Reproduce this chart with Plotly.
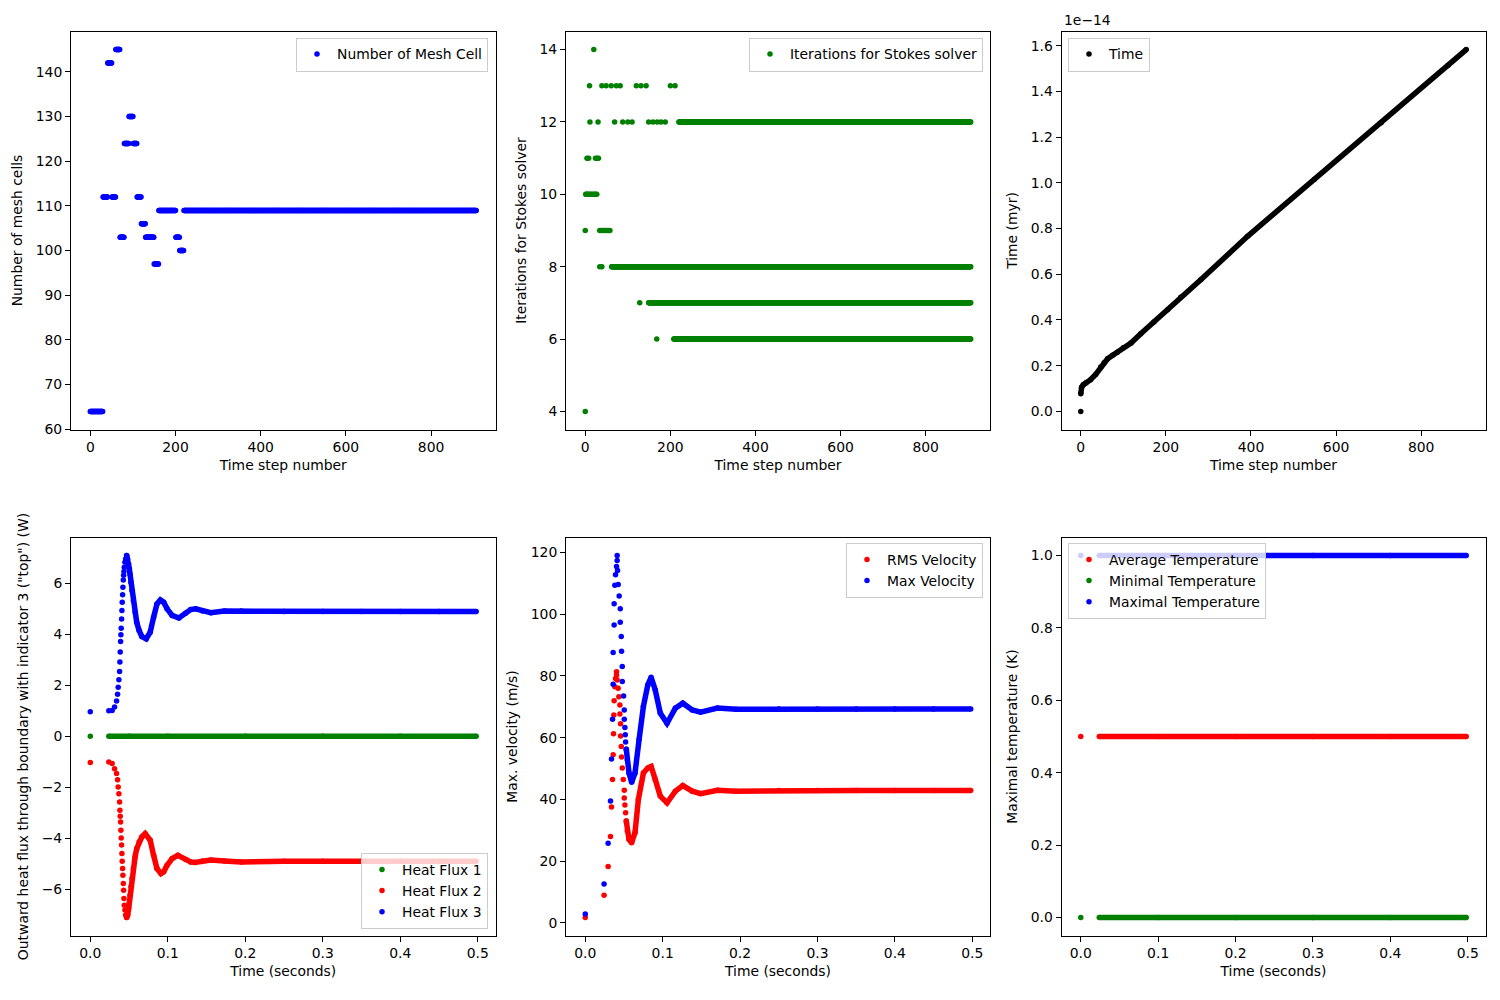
import plotly.graph_objects as go

# ---------------- data ----------------
LAST_STEP = 906

# Panel 1: number of mesh cells (piecewise constant runs over time steps)
MESH_CELLS = [64, 112, 142, 112, 145, 103, 124, 130, 124, 112, 106, 103, 97, 109, 103, 100, 109]
MESH_RUN_FIRST_STEP = [0, 30, 41, 51, 60, 70, 80, 91, 101, 110, 120, 130, 150, 161, 201, 210, 220]

# Panel 2: iterations for Stokes solver
ITER_EARLY_STEPS = [0, 0,
                    1, 3, 5, 7, 10, 13, 16, 19, 22, 25, 27,
                    4, 8, 24, 28, 31,
                    11, 30, 69, 88, 100, 110, 149, 159, 169, 178, 188,
                    10, 39, 49, 61, 73, 82, 120, 131, 143, 200, 211,
                    20,
                    34, 38, 42, 46, 50, 54, 58,
                    34, 39,
                    128, 168]
ITER_EARLY_COUNTS = [4, 9,
                     10, 10, 10, 10, 10, 10, 10, 10, 10, 10, 10,
                     11, 11, 11, 11, 11,
                     12, 12, 12, 12, 12, 12, 12, 12, 12, 12, 12,
                     13, 13, 13, 13, 13, 13, 13, 13, 13, 13, 13,
                     14,
                     9, 9, 9, 9, 9, 9, 9,
                     8, 8,
                     7, 6]
ITER_ROW_COUNTS = [8, 7, 6, 12]
ITER_ROW_FIRST_STEP = [62, 149, 208, 220]

# Panel 3: model time (in units of 1e-14 myr)
TIME_STEPS = [0, 0, 2, 6, 12, 23, 35, 47, 55, 63, 75, 86, 100, 118, 141, 172, 204, 235, 282,
              392, 549, 706, 863, 906]
TIME_MYR_E14 = [0.0, 0.077, 0.106, 0.117, 0.124, 0.139, 0.162, 0.194, 0.213, 0.230, 0.246, 0.259,
                0.278, 0.299, 0.340, 0.391, 0.445, 0.500, 0.576, 0.766, 1.016, 1.263, 1.513, 1.583]

# Panel 4: heat flux
HF_T_RISE = [0.0, 0.0239, 0.0282, 0.0313, 0.0339, 0.0352, 0.0360, 0.0369, 0.0378, 0.0382, 0.0386,
             0.0391, 0.0395, 0.0399, 0.0404, 0.0408, 0.0412, 0.0417, 0.0421, 0.0426, 0.0430, 0.0434,
             0.0439, 0.0447, 0.0456, 0.0469]
HF3_RISE = [0.97, 1.01, 1.02, 1.15, 1.39, 1.65, 1.93, 2.22, 2.55, 2.92, 3.31, 3.73, 3.99, 4.25,
            4.61, 4.94, 5.27, 5.56, 5.86, 6.14, 6.33, 6.48, 6.64, 6.84, 6.97, 7.10]
HF2_RISE = [-1.03, -1.01, -1.07, -1.27, -1.46, -1.70, -1.99, -2.25, -2.58, -2.90, -3.14, -3.36,
            -3.69, -3.99, -4.27, -4.60, -4.90, -5.19, -5.45, -5.78, -6.04, -6.37, -6.63, -6.82,
            -7.02, -7.11]
HF3_T_SETTLE = [0.0469, 0.0482, 0.0495, 0.0504, 0.0512, 0.0525, 0.0538, 0.0556, 0.0578, 0.0599,
                0.0630, 0.0665, 0.0721, 0.0773, 0.0817, 0.0860, 0.0904, 0.0947, 0.0991, 0.1056,
                0.1143, 0.1230, 0.1295, 0.1360, 0.1447, 0.1556, 0.1729, 0.1947,
                0.25, 0.30, 0.35, 0.40, 0.45, 0.498]
HF3_SETTLE = [7.10, 6.97, 6.77, 6.58, 6.38, 6.05, 5.73, 5.33, 4.88, 4.48, 4.16, 3.92, 3.83, 4.09,
              4.68, 5.20, 5.36, 5.27, 5.01, 4.75, 4.65, 4.84, 4.98, 5.01, 4.92, 4.86, 4.92, 4.92,
              4.90, 4.90, 4.90, 4.90, 4.90, 4.90]
HF2_T_SETTLE = [0.0469, 0.0482, 0.0495, 0.0504, 0.0512, 0.0525, 0.0538, 0.0556, 0.0578, 0.0599,
                0.0630, 0.0665, 0.0708, 0.0773, 0.0817, 0.0860, 0.0912, 0.0947, 0.0991, 0.1056,
                0.1130, 0.1230, 0.1295, 0.1347, 0.1447, 0.1556, 0.1729, 0.1947,
                0.25, 0.30, 0.35, 0.40, 0.45, 0.498]
HF2_SETTLE = [-7.11, -7.02, -6.76, -6.50, -6.24, -5.91, -5.58, -5.19, -4.73, -4.41, -4.14, -3.95,
              -3.82, -4.08, -4.67, -5.19, -5.39, -5.32, -5.06, -4.80, -4.67, -4.84, -4.93, -4.95,
              -4.89, -4.86, -4.89, -4.93,
              -4.90, -4.90, -4.90, -4.90, -4.90, -4.90]
HF1_T = [0.0, 0.0239, 0.05, 0.1, 0.2, 0.3, 0.4, 0.498]
HF1 = [0.0, 0.0, 0.0, 0.0, 0.0, 0.0, 0.0, 0.0]

# Panel 5: velocities
VMAX_T_RISE = [0.0, 0.0243, 0.0295, 0.0326, 0.0339, 0.0352, 0.0360, 0.0360, 0.0373, 0.0373, 0.0382,
               0.0391, 0.0404, 0.0412, 0.0412, 0.0417, 0.0425, 0.0438, 0.0452, 0.0452, 0.0465,
               0.0469, 0.0478, 0.0478, 0.0495, 0.0504, 0.0504, 0.0512, 0.0517, 0.0521, 0.0530]
VMAX_RISE = [2.9, 12.6, 25.8, 39.5, 53.1, 66.0, 77.3, 87.6, 96.5, 103.4, 109.4, 112.8, 115.5, 117.4,
             119.0, 114.2, 109.6, 105.9, 101.8, 97.4, 92.8, 88.0, 83.1, 78.2, 73.5, 69.0, 66.0,
             63.3, 61.0, 58.6, 56.3]
VMAX_T_SETTLE = [0.0530, 0.0543, 0.0565, 0.0599, 0.0643, 0.0695, 0.0751, 0.0808, 0.0851, 0.0904,
                 0.0969, 0.1056, 0.1164, 0.1260, 0.1382, 0.1490, 0.1708, 0.1947,
                 0.25, 0.30, 0.35, 0.40, 0.45, 0.498]
VMAX_SETTLE = [56.3, 52.9, 48.6, 45.6, 48.6, 59.4, 70.1, 77.1, 79.6, 75.5, 68.0, 64.7, 69.6, 71.2,
               69.0, 68.3, 69.6, 69.2, 69.3, 69.3, 69.3, 69.3, 69.3, 69.3]
VRMS_T_RISE = [0.0, 0.0243, 0.0295, 0.0326, 0.0339, 0.0352, 0.0360, 0.0365, 0.0369, 0.0373, 0.0382,
               0.0391, 0.0404, 0.0404, 0.0412, 0.0425, 0.0434, 0.0447, 0.0447, 0.0456, 0.0456,
               0.0465, 0.0469, 0.0478, 0.0491, 0.0504, 0.0504, 0.0512, 0.0521, 0.0530]
VRMS_RISE = [1.8, 9.0, 18.3, 28.0, 37.6, 46.5, 54.5, 61.3, 67.4, 72.0, 76.5, 79.2, 81.4, 80.3, 78.7,
             76.0, 73.3, 70.6, 67.7, 64.5, 60.6, 57.2, 53.8, 50.2, 46.5, 43.0, 40.5, 38.2, 35.7, 33.0]
VRMS_T_SETTLE = [0.0530, 0.0543, 0.0565, 0.0599, 0.0643, 0.0686, 0.0751, 0.0808, 0.0851, 0.0904,
                 0.0969, 0.1056, 0.1164, 0.1260, 0.1382, 0.1490, 0.1708, 0.1947,
                 0.25, 0.30, 0.35, 0.40, 0.45, 0.498]
VRMS_SETTLE = [33.0, 29.8, 27.1, 26.0, 29.3, 40.0, 48.6, 50.2, 50.7, 46.5, 41.1, 38.9, 42.7, 44.5,
               42.7, 41.9, 43.0, 42.7, 42.9, 42.9, 42.9, 42.9, 42.9, 42.9]

# Panel 6: temperatures
TEMP_T = [0.0, 0.0239, 0.1, 0.2, 0.3, 0.4, 0.498]
TEMP_AVG = [0.5, 0.5, 0.5, 0.5, 0.5, 0.5, 0.5]
TEMP_MIN = [0.0, 0.0, 0.0, 0.0, 0.0, 0.0, 0.0]
TEMP_MAX = [1.0, 1.0, 1.0, 1.0, 1.0, 1.0, 1.0]

# ---------------- styling ----------------
FONT = "DejaVu Sans"
FS = 13.9
MS = 5.5
BLUE, RED, GREEN, BLACK = "#0000ff", "#ff0000", "#008000", "#000000"

W, H = 1500, 1000
X_DOM = [[71 / W, 495.5 / W], [566 / W, 990 / W], [1061.5 / W, 1485.5 / W]]
Y_TOP = [1 - 429.5 / H, 1 - 31.5 / H]
Y_BOT = [1 - 935.5 / H, 1 - 537.5 / H]


def pad(values):
    lo, hi = min(values), max(values)
    m = 0.05 * (hi - lo)
    return [lo - m, hi + m]


def expand_runs(values, firsts, last):
    steps, vals = [], []
    for i, (v, f) in enumerate(zip(values, firsts)):
        end = firsts[i + 1] - 1 if i + 1 < len(firsts) else last
        for s in range(f, end + 1):
            steps.append(s)
            vals.append(v)
    return steps, vals


fig = go.Figure()


def dots(x, y, color, panel, name=None):
    ax = "" if panel == 1 else str(panel)
    fig.add_trace(go.Scatter(
        x=x, y=y, mode="markers",
        marker=dict(color=color, size=MS, line=dict(width=0)),
        name=name, showlegend=name is not None,
        legend="legend" + ax,
        xaxis="x" + ax, yaxis="y" + ax, hoverinfo="skip"))


def band(x, y, color, panel):
    ax = "" if panel == 1 else str(panel)
    fig.add_trace(go.Scatter(
        x=x, y=y, mode="lines", line=dict(color=color, width=MS),
        showlegend=False, xaxis="x" + ax, yaxis="y" + ax, hoverinfo="skip"))


# Panel 1
mesh_steps, mesh_vals = expand_runs(MESH_CELLS, MESH_RUN_FIRST_STEP, LAST_STEP)
dots(mesh_steps, mesh_vals, BLUE, 1, "Number of Mesh Cell")

# Panel 2
it_steps = list(ITER_EARLY_STEPS)
it_vals = list(ITER_EARLY_COUNTS)
for c, f in zip(ITER_ROW_COUNTS, ITER_ROW_FIRST_STEP):
    for s in range(f, LAST_STEP + 1):
        it_steps.append(s)
        it_vals.append(c)
dots(it_steps, it_vals, GREEN, 2, "Iterations for Stokes solver")

# Panel 3
band(TIME_STEPS[1:], TIME_MYR_E14[1:], BLACK, 3)
dots(TIME_STEPS, TIME_MYR_E14, BLACK, 3, "Time")

# Panel 4
band(HF1_T[1:], HF1[1:], GREEN, 4)
dots(HF1_T, HF1, GREEN, 4, "Heat Flux 1")
band(HF2_T_SETTLE, HF2_SETTLE, RED, 4)
dots(HF_T_RISE + HF2_T_SETTLE, HF2_RISE + HF2_SETTLE, RED, 4, "Heat Flux 2")
band(HF3_T_SETTLE, HF3_SETTLE, BLUE, 4)
dots(HF_T_RISE + HF3_T_SETTLE, HF3_RISE + HF3_SETTLE, BLUE, 4, "Heat Flux 3")

# Panel 5
band(VRMS_T_SETTLE, VRMS_SETTLE, RED, 5)
dots(VRMS_T_RISE + VRMS_T_SETTLE, VRMS_RISE + VRMS_SETTLE, RED, 5, "RMS Velocity")
band(VMAX_T_SETTLE, VMAX_SETTLE, BLUE, 5)
dots(VMAX_T_RISE + VMAX_T_SETTLE, VMAX_RISE + VMAX_SETTLE, BLUE, 5, "Max Velocity")

# Panel 6
band(TEMP_T[1:], TEMP_AVG[1:], RED, 6)
dots(TEMP_T, TEMP_AVG, RED, 6, "Average Temperature")
band(TEMP_T[1:], TEMP_MIN[1:], GREEN, 6)
dots(TEMP_T, TEMP_MIN, GREEN, 6, "Minimal Temperature")
band(TEMP_T[1:], TEMP_MAX[1:], BLUE, 6)
dots(TEMP_T, TEMP_MAX, BLUE, 6, "Maximal Temperature")

# ---------------- axes ----------------
tfont = dict(family=FONT, size=FS, color="black")


def axis(domain, anchor, rng, title, standoff, **kw):
    d = dict(domain=domain, anchor=anchor, range=rng, automargin=False,
             showline=True, linecolor="black", linewidth=1, mirror=True,
             ticks="outside", ticklen=5, tickwidth=1, tickcolor="black",
             showgrid=False, zeroline=False, tickfont=tfont,
             title=dict(text=title, font=tfont, standoff=standoff))
    d.update(kw)
    return d


step_rng = pad([0, LAST_STEP])
t_rng = pad([0.0, 0.498])
step_ticks = dict(tickmode="array", tickvals=[0, 200, 400, 600, 800])
t_ticks = dict(tickmode="linear", tick0=0, dtick=0.1, tickformat=".1f")
XS, YS = 6, 9

fig.update_layout(
    xaxis=axis(X_DOM[0], "y", step_rng, "Time step number", XS, **step_ticks),
    yaxis=axis(Y_TOP, "x", pad(MESH_CELLS), "Number of mesh cells", YS,
               tickmode="linear", tick0=60, dtick=10),
    xaxis2=axis(X_DOM[1], "y2", step_rng, "Time step number", XS, **step_ticks),
    yaxis2=axis(Y_TOP, "x2", pad(ITER_EARLY_COUNTS + ITER_ROW_COUNTS),
                "Iterations for Stokes solver", YS, tickmode="linear", tick0=4, dtick=2),
    xaxis3=axis(X_DOM[2], "y3", step_rng, "Time step number", XS, **step_ticks),
    yaxis3=axis(Y_TOP, "x3", pad(TIME_MYR_E14), "Time (myr)", YS,
                tickmode="linear", tick0=0, dtick=0.2, tickformat=".1f"),
    xaxis4=axis(X_DOM[0], "y4", t_rng, "Time (seconds)", XS, **t_ticks),
    yaxis4=axis(Y_BOT, "x4", pad(HF2_RISE + HF3_RISE + HF2_SETTLE + HF3_SETTLE),
                'Outward heat flux through boundary with indicator 3 ("top") (W)', YS,
                tickmode="linear", tick0=0, dtick=2),
    xaxis5=axis(X_DOM[1], "y5", t_rng, "Time (seconds)", XS, **t_ticks),
    yaxis5=axis(Y_BOT, "x5", pad(VRMS_RISE + VMAX_RISE), "Max. velocity (m/s)", YS,
                tickmode="linear", tick0=0, dtick=20),
    xaxis6=axis(X_DOM[2], "y6", t_rng, "Time (seconds)", XS, **t_ticks),
    yaxis6=axis(Y_BOT, "x6", pad(TEMP_MIN + TEMP_MAX), "Maximal temperature (K)", YS,
                tickmode="linear", tick0=0, dtick=0.2, tickformat=".1f"),
)


def legend(x, y, xanchor, yanchor):
    return dict(x=x, y=y, xanchor=xanchor, yanchor=yanchor,
                bgcolor="rgba(255,255,255,0.8)", bordercolor="#cccccc", borderwidth=1,
                font=dict(family=FONT, size=FS, color="black"))


fig.update_layout(
    legend=legend(488 / W, 1 - 37.5 / H, "right", "top"),
    legend2=legend(983 / W, 1 - 37.5 / H, "right", "top"),
    legend3=legend(1068 / W, 1 - 37.5 / H, "left", "top"),
    legend4=legend(488 / W, 1 - 929 / H, "right", "bottom"),
    legend5=legend(983 / W, 1 - 543 / H, "right", "top"),
    legend6=legend(1068 / W, 1 - 543 / H, "left", "top"),
)

fig.add_annotation(text="1e\u221214", x=1061.5 / W, y=Y_TOP[1], xref="paper", yref="paper",
                   xanchor="left", yanchor="bottom", yshift=1, showarrow=False,
                   font=dict(family=FONT, size=FS, color="black"))

fig.update_layout(
    width=W, height=H, margin=dict(l=0, r=0, t=0, b=0, autoexpand=False),
    paper_bgcolor="white", plot_bgcolor="white",
    font=dict(family=FONT, size=FS, color="black"),
    showlegend=True,
)

fig.write_html("out.html", config={"displayModeBar": False},
               post_script="document.body.style.margin='0px';")
